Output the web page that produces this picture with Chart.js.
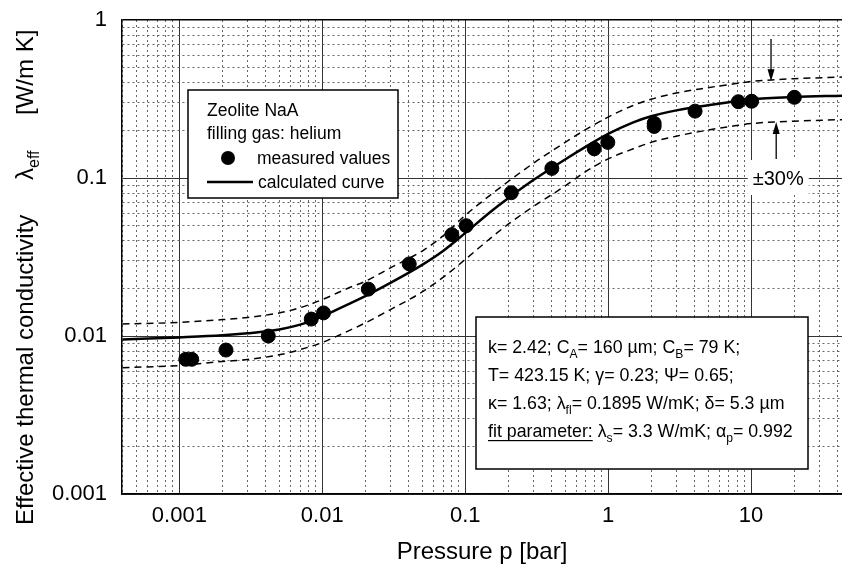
<!DOCTYPE html>
<html>
<head>
<meta charset="utf-8">
<script src="https://cdn.jsdelivr.net/npm/chart.js@4"></script>
<style>
  html, body { margin: 0; padding: 0; background: #fff; }
</style>
</head>
<body>
<canvas id="chart" width="842" height="569"></canvas>
<script>
const FONT = "'Liberation Sans', Arial, Helvetica, sans-serif";

// measured values (pressure in bar, conductivity in W/m K)
const measuredP = [0.00111, 0.00122, 0.00212, 0.00419, 0.00837, 0.0102, 0.021, 0.0406, 0.0807, 0.1016,
  0.21, 0.404, 0.80, 0.995, 2.1, 2.1, 4.06, 8.15, 10.1, 20.1];
const measuredL = [0.00712, 0.00712, 0.00815, 0.0100, 0.0128, 0.0140, 0.0198, 0.0286, 0.0438, 0.0499,
  0.0807, 0.115, 0.153, 0.168, 0.212, 0.222, 0.265, 0.304, 0.306, 0.324];

// calculated curve and the +/-30% band
const curveP = [0.0004, 0.001, 0.002, 0.003, 0.005, 0.007, 0.01, 0.015, 0.02, 0.03, 0.05, 0.07, 0.1,
  0.15, 0.2, 0.3, 0.5, 0.7, 1, 1.5, 2, 3, 5, 7, 10, 20, 43.3];
const curveCalc = [0.0095, 0.0098, 0.0101, 0.0104, 0.0110, 0.0118, 0.0133, 0.0158, 0.0179, 0.0217, 0.0282, 0.0345, 0.0448,
  0.061, 0.0745, 0.097, 0.131, 0.158, 0.19, 0.225, 0.246, 0.268, 0.289, 0.302, 0.315, 0.326, 0.332];
const curveUpper = [0.0119, 0.0122, 0.0127, 0.0131, 0.0140, 0.0151, 0.0170, 0.0200, 0.0222, 0.0270, 0.0345, 0.0430, 0.058,
  0.078, 0.095, 0.124, 0.168, 0.203, 0.243, 0.288, 0.315, 0.345, 0.373, 0.39, 0.408, 0.425, 0.435];
const curveLower = [0.0063, 0.0065, 0.0069, 0.0071, 0.0076, 0.0082, 0.0091, 0.0107, 0.0121, 0.0147, 0.0190, 0.0235, 0.0305,
  0.0415, 0.051, 0.066, 0.089, 0.110, 0.132, 0.153, 0.168, 0.184, 0.201, 0.211, 0.221, 0.229, 0.234];

const xRange = [0.000397, 43.3];
const yRange = [0.001, 1];
const decades = [1e-4, 1e-3, 1e-2, 1e-1, 1, 10];
const xTickLabels = ['0.001', '0.01', '0.1', '1', '10'];
const yTickLabels = ['0.001', '0.01', '0.1', '1'];

const legendLines = ['Zeolite NaA', 'filling gas: helium', 'measured values', 'calculated curve'];
const paramLines = [
  [{t: 'k= 2.42; C'}, {t: 'A', sub: true}, {t: '= 160 µm; C'}, {t: 'B', sub: true}, {t: '= 79 K;'}],
  [{t: 'T= 423.15 K; γ= 0.23; Ψ= 0.65;'}],
  [{t: 'κ= 1.63; λ'}, {t: 'fl', sub: true}, {t: '= 0.1895 W/mK; δ= 5.3 µm'}],
  [{t: 'fit parameter:', u: true}, {t: ' λ'}, {t: 's', sub: true}, {t: '= 3.3 W/mK; α'}, {t: 'p', sub: true}, {t: '= 0.992'}]
];
const bandLabel = '±30%';
const arrowDown = {p: 13.8, from: 0.758, to: 0.41};
const arrowUp = {p: 15, from: 0.132, to: 0.226};
const bandLabelPos = {p: 15.5, l: 0.1};

function isDecade(v) {
  const e = Math.log10(v);
  return Math.abs(e - Math.round(e)) < 1e-6;
}

function logTicks(min, max) {
  const t = [];
  decades.forEach(d => {
    for (let m = 1; m <= 9; m++) {
      const v = +(m * d).toPrecision(3);
      if (v >= min * 0.9999 && v <= max * 1.0001) t.push({value: v});
    }
  });
  return t;
}

function labelFor(list, v) {
  return list.find(s => Math.abs(parseFloat(s) - v) / v < 1e-6) || '';
}

const pts = (xs, ys) => xs.map((x, i) => ({x: x, y: ys[i]}));

function gridColor(c) {
  if (!c.tick) return '#555';
  if (c.tick.value === 1 && c.scale.axis === 'y') return '#000';
  return isDecade(c.tick.value) ? '#333' : '#666';
}

function richText(ctx, x, y, parts, size) {
  parts.forEach(p => {
    const s = p.sub ? size * 0.68 : size;
    ctx.font = s + 'px ' + FONT;
    const yy = p.sub ? y + size * 0.3 : y;
    ctx.fillText(p.t, x, yy);
    const w = ctx.measureText(p.t).width;
    if (p.u) ctx.fillRect(x, y + 3, w, 1.2);
    x += w;
  });
}

function arrow(ctx, x, y0, y1) {
  const dir = y1 > y0 ? 1 : -1;
  ctx.beginPath();
  ctx.moveTo(x, y0);
  ctx.lineTo(x, y1 - dir * 10);
  ctx.lineWidth = 1.3;
  ctx.strokeStyle = '#000';
  ctx.stroke();
  ctx.beginPath();
  ctx.moveTo(x, y1);
  ctx.lineTo(x - 3.5, y1 - dir * 12);
  ctx.lineTo(x + 3.5, y1 - dir * 12);
  ctx.closePath();
  ctx.fillStyle = '#000';
  ctx.fill();
}

const annotations = {
  id: 'annotations',
  afterDraw(chart) {
    const ctx = chart.ctx;
    const xs = chart.scales.x, ys = chart.scales.y;
    ctx.save();
    ctx.textBaseline = 'alphabetic';
    ctx.textAlign = 'left';

    // legend box
    ctx.fillStyle = '#fff';
    ctx.fillRect(188, 90, 210, 108);
    ctx.lineWidth = 1.5;
    ctx.strokeStyle = '#000';
    ctx.strokeRect(188, 90, 210, 108);
    ctx.fillStyle = '#000';
    ctx.font = '17.5px ' + FONT;
    ctx.fillText(legendLines[0], 207, 116);
    ctx.fillText(legendLines[1], 207, 139);
    ctx.fillText(legendLines[2], 257, 164);
    ctx.fillText(legendLines[3], 258, 188);
    ctx.beginPath();
    ctx.arc(228, 158, 7, 0, Math.PI * 2);
    ctx.fill();
    ctx.beginPath();
    ctx.moveTo(207, 182);
    ctx.lineTo(253, 182);
    ctx.lineWidth = 2.5;
    ctx.stroke();

    // parameter box
    ctx.fillStyle = '#fff';
    ctx.fillRect(476, 317, 332, 152);
    ctx.lineWidth = 1.5;
    ctx.strokeRect(476, 317, 332, 152);
    ctx.fillStyle = '#000';
    paramLines.forEach((line, i) => richText(ctx, 488, 353 + i * 28, line, 17.8));

    // +/-30% label and arrows
    ctx.font = '20px ' + FONT;
    const lx = xs.getPixelForValue(bandLabelPos.p);
    const ly = ys.getPixelForValue(bandLabelPos.l);
    const w = ctx.measureText(bandLabel).width;
    ctx.fillStyle = '#fff';
    ctx.fillRect(lx - w / 2 - 5, ly - 18, w + 10, 35);
    ctx.fillStyle = '#000';
    ctx.textAlign = 'center';
    ctx.textBaseline = 'middle';
    ctx.fillText(bandLabel, lx, ly + 1);
    arrow(ctx, xs.getPixelForValue(arrowDown.p), ys.getPixelForValue(arrowDown.from), ys.getPixelForValue(arrowDown.to));
    arrow(ctx, xs.getPixelForValue(arrowUp.p), ys.getPixelForValue(arrowUp.from), ys.getPixelForValue(arrowUp.to));

    // y axis title (rotated)
    ctx.translate(33, 0);
    ctx.rotate(-Math.PI / 2);
    ctx.textAlign = 'left';
    ctx.textBaseline = 'alphabetic';
    ctx.font = '24px ' + FONT;
    ctx.fillText('Effective thermal conductivity', -525, 0);
    ctx.fillText('λ', -180, 0);
    const lw = ctx.measureText('λ').width;
    ctx.font = '16px ' + FONT;
    ctx.fillText('eff', -180 + lw, 6);
    ctx.font = '24px ' + FONT;
    ctx.fillText('[W/m K]', -115, 0);
    ctx.restore();
  }
};

new Chart(document.getElementById('chart'), {
  type: 'scatter',
  data: {
    datasets: [
      {
        label: 'measured values',
        data: pts(measuredP, measuredL),
        backgroundColor: '#000',
        borderColor: '#000',
        pointRadius: 7,
        pointHoverRadius: 7,
      },
      {
        label: 'calculated curve',
        data: pts(curveP, curveCalc),
        showLine: true,
        borderColor: '#000',
        borderWidth: 2.5,
        pointRadius: 0,
        cubicInterpolationMode: 'monotone',
      },
      {
        label: '+30%',
        data: pts(curveP, curveUpper),
        showLine: true,
        borderColor: '#000',
        borderWidth: 1.5,
        borderDash: [7, 5],
        pointRadius: 0,
        cubicInterpolationMode: 'monotone',
      },
      {
        label: '-30%',
        data: pts(curveP, curveLower),
        showLine: true,
        borderColor: '#000',
        borderWidth: 1.5,
        borderDash: [7, 5],
        pointRadius: 0,
        cubicInterpolationMode: 'monotone',
      },
    ],
  },
  options: {
    responsive: false,
    animation: false,
    devicePixelRatio: 1,
    layout: { padding: { top: 20, right: 0, bottom: 0, left: 0 }, autoPadding: false },
    plugins: {
      legend: { display: false },
      tooltip: { enabled: false },
    },
    scales: {
      x: {
        type: 'logarithmic',
        min: xRange[0],
        max: xRange[1],
        afterBuildTicks: s => { s.ticks = logTicks(xRange[0], xRange[1]); },
        afterFit: s => { s.height = 75; s.paddingLeft = 0; s.paddingRight = 0; },
        ticks: {
          autoSkip: false,
          maxRotation: 0,
          padding: 9,
          color: '#000',
          font: { family: FONT, size: 22 },
          callback: v => labelFor(xTickLabels, v),
        },
        grid: { drawTicks: false, color: gridColor, lineWidth: 1 },
        border: {
          color: '#000',
          width: 1.5,
          dash: c => (c.tick && !isDecade(c.tick.value)) ? [2, 3] : [],
        },
        title: {
          display: true,
          text: 'Pressure p [bar]',
          color: '#000',
          font: { family: FONT, size: 24 },
          padding: { top: 0, bottom: 2 },
        },
      },
      y: {
        type: 'logarithmic',
        min: yRange[0],
        max: yRange[1],
        afterBuildTicks: s => { s.ticks = logTicks(yRange[0], yRange[1]); },
        afterFit: s => { s.width = 122; s.paddingTop = 0; s.paddingBottom = 0; },
        ticks: {
          autoSkip: false,
          padding: 15,
          color: '#000',
          font: { family: FONT, size: 22 },
          callback: v => labelFor(yTickLabels, v),
        },
        grid: {
          drawTicks: false,
          color: gridColor,
          lineWidth: c => (c.tick && c.tick.value === 1) ? 1.5 : 1,
        },
        border: {
          color: '#000',
          width: 1.5,
          dash: c => (c.tick && !isDecade(c.tick.value)) ? [2, 3] : [],
        },
      },
    },
  },
  plugins: [annotations],
});
</script>
</body>
</html>
